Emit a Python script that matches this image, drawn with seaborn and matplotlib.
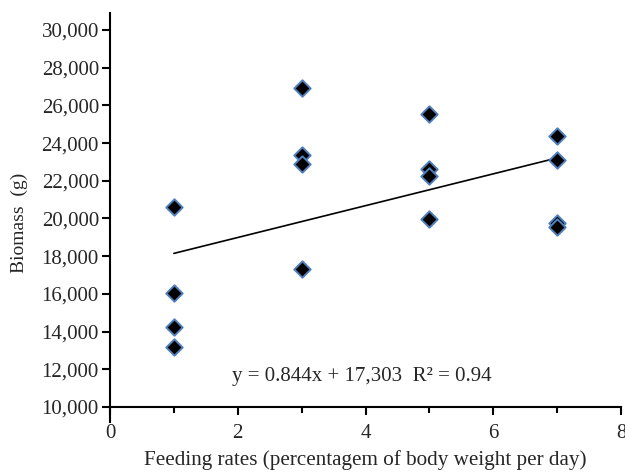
import numpy as np
import pandas as pd
import seaborn as sns
import matplotlib.pyplot as plt
from matplotlib.ticker import MultipleLocator, FuncFormatter

# feeding rate (% body weight per day) and biomass (g)
rate = [1, 1, 1, 1, 3, 3, 3, 3, 5, 5, 5, 5, 7, 7, 7, 7]
biomass = [20600, 16050, 14250, 13200,
           26900, 23350, 22900, 17320,
           25550, 22650, 22250, 19980,
           24380, 23120, 19750, 19540]

# trend line as printed on the chart
slope = 844
intercept = 17303
fit_x = [1, 7]
equation = "y = 0.844x + 17,303  R\u00b2 = 0.94"

sns.set_style("white")
plt.rcParams["font.family"] = ["Liberation Serif", "DejaVu Serif"]

df = pd.DataFrame({"rate": rate, "biomass": biomass})
fit = pd.DataFrame({"rate": fit_x,
                    "biomass": [intercept + slope * x for x in fit_x]})

fig = plt.figure(figsize=(6.25, 4.76), dpi=100)
ax = fig.add_axes([0.176, 0.145, 0.8176, 0.8277])

sns.lineplot(x="rate", y="biomass", data=fit, color="black", linewidth=1.2, ax=ax)
sns.scatterplot(x="rate", y="biomass", data=df, marker="D", s=70,
                color="black", edgecolor="#4F81BD", linewidth=1.4, ax=ax, zorder=3)

ax.set_xlim(0, 8)
ax.set_ylim(10000, 30900)
ax.xaxis.set_major_locator(MultipleLocator(2))
ax.xaxis.set_minor_locator(MultipleLocator(1))
ax.yaxis.set_major_locator(MultipleLocator(2000))
ax.yaxis.set_major_formatter(FuncFormatter(lambda v, p: f"{int(v):,}"))

for s in ["top", "right"]:
    ax.spines[s].set_visible(False)
for s in ["left", "bottom"]:
    ax.spines[s].set_color("black")
    ax.spines[s].set_linewidth(1.5)
ax.spines["left"].set_bounds(9200, 30900)

ax.tick_params(axis="both", which="major", direction="out", length=6, width=1.5,
               color="black", labelsize=15, bottom=True, left=True)
ax.tick_params(axis="x", which="major", pad=6)
ax.tick_params(axis="y", which="major", pad=2)
ax.tick_params(axis="x", which="minor", direction="out", length=4, width=1.5,
               color="black", bottom=True)

ax.set_xlabel("Feeding rates (percentagem of body weight per day)", fontsize=15.2)
ax.set_ylabel("Biomass  (g)", fontsize=14)
ax.yaxis.set_label_coords(-0.160, 0.467)
ax.xaxis.set_label_coords(0.5, -0.109)

ax.text(3.95, 11600, equation, fontsize=15, ha="center", va="center")

fig.savefig("out.png", dpi=100)
